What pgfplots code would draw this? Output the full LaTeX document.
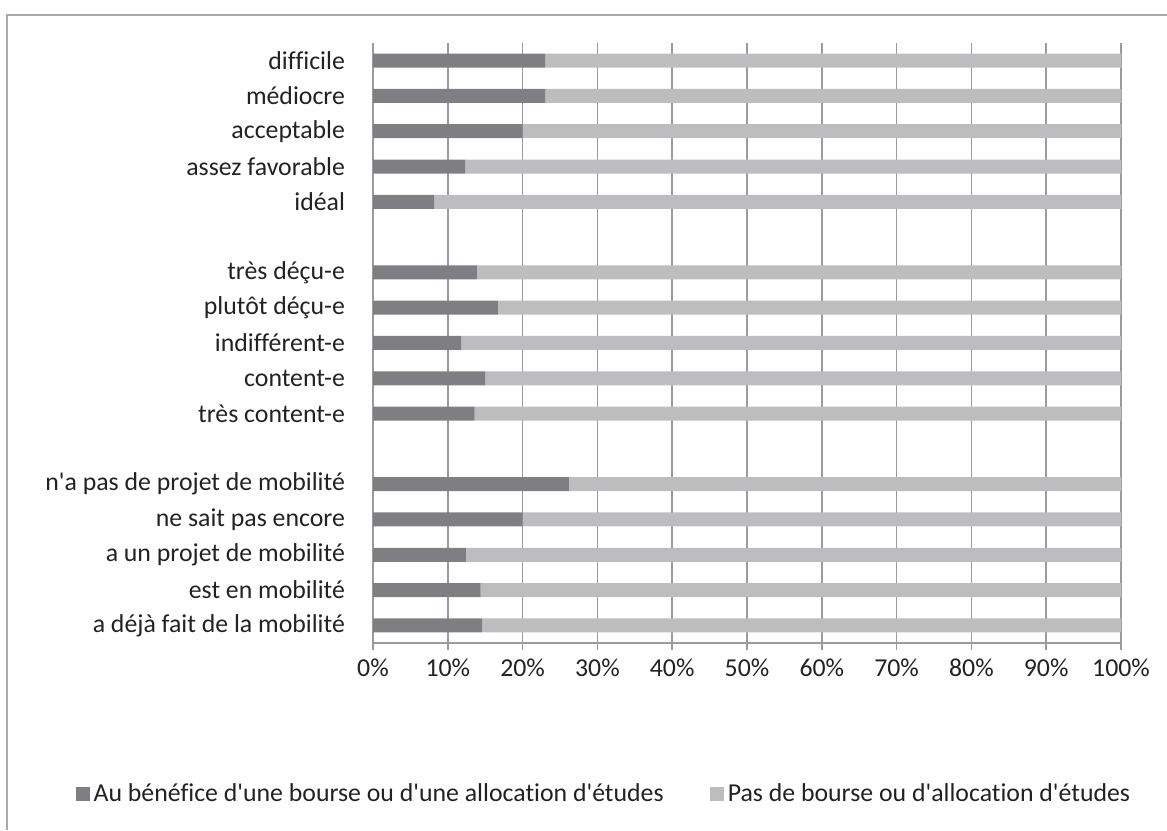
\documentclass[border=0pt]{standalone}
\usepackage{fontspec}
\setmainfont{Carlito}[Ligatures={NoCommon}]
\usepackage{pgfplots}
\pgfplotsset{compat=1.18}
\definecolor{darkbar}{HTML}{7F7F83}
\definecolor{lightbar}{HTML}{BDBDBF}
\definecolor{gridc}{HTML}{9B9B9F}
\definecolor{textc}{HTML}{222222}
\newcommand{\q}{\textquotesingle}
\begin{document}
\begin{tikzpicture}
\useasboundingbox (0pt,0pt) rectangle (583.5pt,415pt);
% outer frame (left and top edges are visible)
\draw[gridc!85, line width=1pt] (3.5pt,0pt) -- (3.5pt,407.5pt) -- (583.5pt,407.5pt);
\begin{axis}[
    at={(186.5pt,93.5pt)}, anchor=origin,
    scale only axis,
    width=374pt, height=300pt,
    xbar stacked,
    bar width=7pt,
    xmin=0, xmax=100,
    ymin=0.5, ymax=17.5,
    xtick={0,10,...,100},
    xticklabels={0\%,10\%,20\%,30\%,40\%,50\%,60\%,70\%,80\%,90\%,100\%},
    ytick={1,2,3,4,5,7,8,9,10,11,13,14,15,16,17},
    yticklabels={a déjà fait de la mobilité,est en mobilité,a un projet de mobilité,ne sait pas encore,n\q a pas de projet de mobilité,
        très content-e,content-e,indifférent-e,plutôt déçu-e,très déçu-e,
        idéal,assez favorable,acceptable,médiocre,difficile},
    extra y ticks={0.5,1.5,...,17.5},
    extra y tick labels={},
    extra y tick style={major tick length=3.5pt, tick align=outside, ytick style={gridc, line width=0.8pt}},
    ytick style={draw=none},
    axis x line=bottom, axis y line=left,
    axis line style={gridc, line width=0.8pt, -},
    xtick style={gridc, line width=0.8pt},
    major tick length=3.5pt,
    tick align=outside,
    xmajorgrids, ymajorgrids=false,
    major grid style={gridc, line width=0.8pt},
    tick label style={font=\fontsize{12.9}{15}\selectfont, text=textc},
    yticklabel style={xshift=-7pt},
    xticklabel style={yshift=-1pt},
    legend style={at={(0.31,-0.252)}, anchor=center, draw=none, fill=none,
        legend columns=2, font=\fontsize{12.9}{15}\selectfont, text=textc,
        inner xsep=0pt,
        /tikz/every odd column/.append style={column sep=0pt},
        /tikz/every even column/.append style={column sep=21pt}},
    legend image code/.code={\fill[#1] (0pt,-3.5pt) rectangle (7pt,3.5pt);},
    clip=false,
]
\addplot[fill=darkbar, draw=none] coordinates {
    (14.6,1) (14.4,2) (12.4,3) (20.0,4) (26.2,5)
    (13.6,7) (15.0,8) (11.8,9) (16.7,10) (13.9,11)
    (8.2,13) (12.3,14) (20.0,15) (23.0,16) (23.0,17)
};
\addlegendentry{Au bénéfice d\q une bourse ou d\q une allocation d\q études}
\addplot[fill=lightbar, draw=none] coordinates {
    (85.4,1) (85.6,2) (87.6,3) (80.0,4) (73.8,5)
    (86.4,7) (85.0,8) (88.2,9) (83.3,10) (86.1,11)
    (91.8,13) (87.7,14) (80.0,15) (77.0,16) (77.0,17)
};
\addlegendentry{Pas de bourse ou d\q allocation d\q études}
\end{axis}
\end{tikzpicture}
\end{document}
